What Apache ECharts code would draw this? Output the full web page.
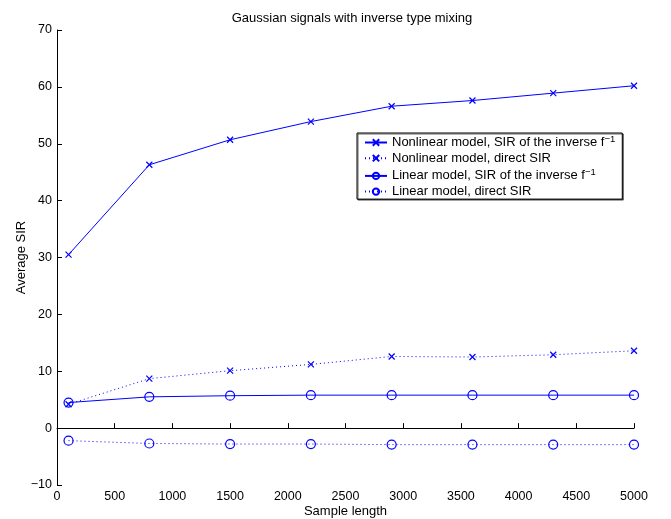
<!DOCTYPE html>
<html>
<head>
<meta charset="utf-8">
<script src="https://cdn.jsdelivr.net/npm/echarts@6/dist/echarts.min.js"></script>
<style>html,body{margin:0;padding:0;background:#fff}#c{width:671px;height:519px}</style>
</head>
<body>
<div id="c"></div>
<script>
var sampleLength = [100, 800, 1500, 2200, 2900, 3600, 4300, 5000];
var nonlinInverse = [30.5, 46.3, 50.7, 53.9, 56.6, 57.6, 58.9, 60.2];
var nonlinDirect = [4.2, 8.7, 10.1, 11.2, 12.6, 12.5, 12.9, 13.6];
var linInverse = [4.5, 5.5, 5.7, 5.8, 5.8, 5.8, 5.8, 5.8];
var linDirect = [-2.2, -2.7, -2.8, -2.8, -2.9, -2.9, -2.9, -2.9];
var seriesNames = [
  'Nonlinear model, SIR of the inverse f',
  'Nonlinear model, direct SIR',
  'Linear model, SIR of the inverse f',
  'Linear model, direct SIR'
];

var BLUE = '#0000ff';
var CROSS = 'path://M0,0L10,10M10,0L0,10';
function pairs(ys) { return sampleLength.map(function (x, i) { return [x, ys[i]]; }); }
function mk(name, ys, symbol, size, dotted) {
  return {
    name: name, type: 'line', data: pairs(ys),
    symbol: symbol, symbolSize: size, showAllSymbol: true,
    lineStyle: { color: BLUE, width: 1, type: dotted ? [1, 3] : 'solid' },
    itemStyle: { color: 'rgba(255,255,255,0)', borderColor: BLUE, borderWidth: 1.2 },
    emphasis: { disabled: true }, animation: false
  };
}
var chart = echarts.init(document.getElementById('c'), null, { renderer: 'canvas' });
var font = 'Liberation Sans, Arial, Helvetica, sans-serif';
chart.setOption({
  backgroundColor: '#fff',
  textStyle: { fontFamily: font },
  title: {
    text: 'Gaussian signals with inverse type mixing',
    left: 347, top: 7, textAlign: 'center',
    textStyle: { fontSize: 13, fontWeight: 'normal', color: '#000', fontFamily: font }
  },
  grid: { left: 57, right: 37, top: 30, bottom: 34, containLabel: false, outerBoundsMode: 'none' },
  legend: {
    orient: 'vertical', left: 357, top: 133,
    padding: [1, 7, 1, 7], itemGap: 2.7, itemWidth: 22, itemHeight: 8,
    borderColor: '#000', borderWidth: 1,
    shadowColor: 'rgba(0,0,0,0.6)', shadowOffsetX: 1, shadowOffsetY: 1, shadowBlur: 0,
    backgroundColor: '#fff',
    selectedMode: false,
    data: seriesNames,
    formatter: function (n) {
      return n.slice(-1) === 'f' ? n + '{sup|−1}' : n;
    },
    textStyle: {
      fontSize: 13, color: '#000', fontFamily: font,
      rich: { sup: { fontSize: 9.5, color: '#000', fontFamily: font, padding: [0, 0, 7, 0] } }
    }
  },
  xAxis: {
    type: 'value', min: 0, max: 5000, interval: 500,
    name: 'Sample length', nameLocation: 'middle', nameGap: 20, nameMoveOverlap: false,
    nameTextStyle: { fontSize: 13, color: '#000', fontFamily: font },
    axisLine: { lineStyle: { color: '#000', width: 1 } },
    axisTick: { inside: true, length: 5, lineStyle: { color: '#000' } },
    axisLabel: { fontSize: 12.5, color: '#000', margin: 5, fontFamily: font, formatter: function (v) { return String(v); } },
    splitLine: { show: false }
  },
  yAxis: {
    type: 'value', min: -10, max: 70, interval: 10,
    name: 'Average SIR', nameLocation: 'middle', nameGap: 29, nameMoveOverlap: false,
    nameTextStyle: { fontSize: 13, color: '#000', fontFamily: font },
    axisLine: { lineStyle: { color: '#000', width: 1 } },
    axisTick: { inside: true, length: 5, lineStyle: { color: '#000' } },
    axisLabel: { fontSize: 12.5, color: '#000', margin: 5, fontFamily: font, formatter: function (v) { return v < 0 ? '\u2212' + Math.abs(v) : String(v); } },
    splitLine: { show: false }
  },
  series: [
    mk(seriesNames[0], nonlinInverse, CROSS, 6, false),
    mk(seriesNames[1], nonlinDirect, CROSS, 6, true),
    mk(seriesNames[2], linInverse, 'circle', 9, false),
    mk(seriesNames[3], linDirect, 'circle', 9, true)
  ]
});
</script>
</body>
</html>
